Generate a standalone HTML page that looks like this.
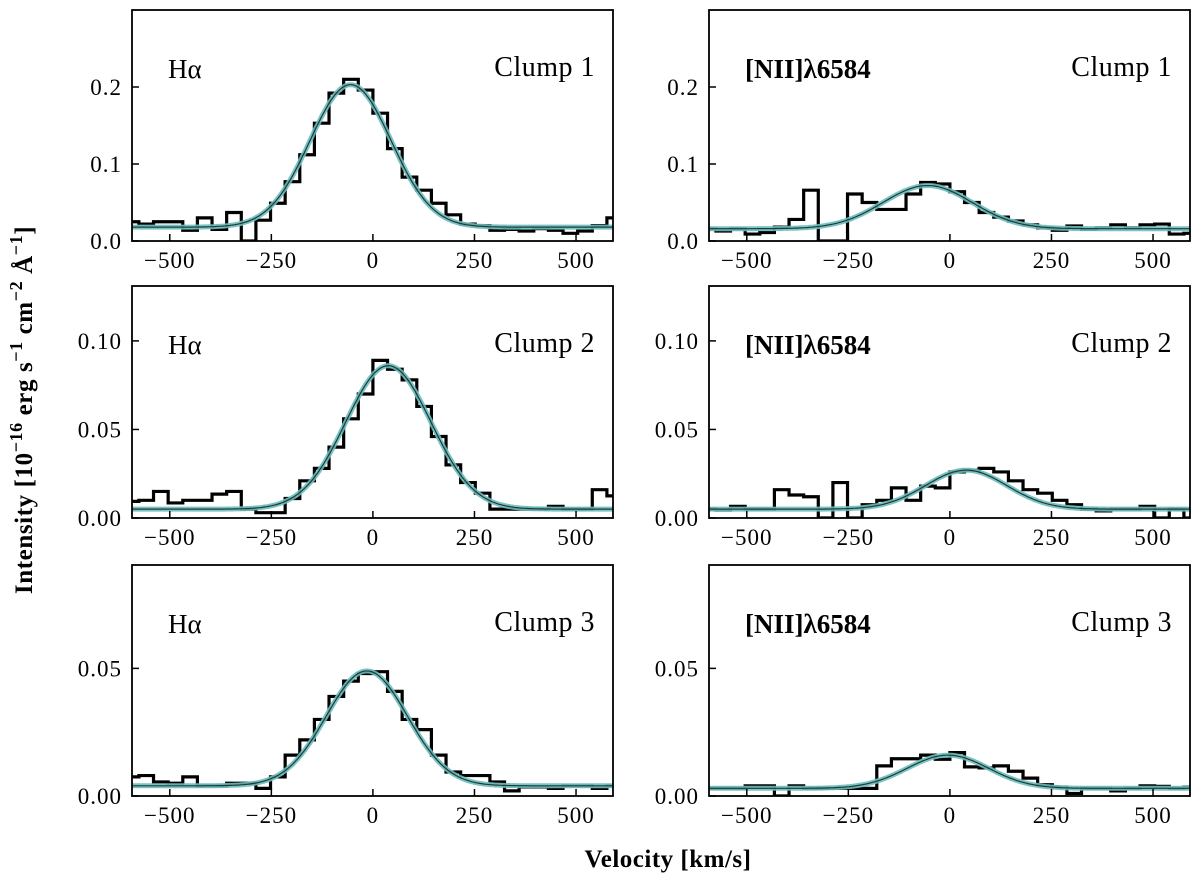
<!DOCTYPE html>
<html><head><meta charset="utf-8"><style>
body{margin:0;background:#fff;}
svg{display:block;font-family:"Liberation Serif","DejaVu Serif",serif;}
</style></head><body>
<svg id="fig" width="1200" height="873" viewBox="0 0 1200 873">
<text x="668" y="867" text-anchor="middle" font-size="25" font-weight="bold" letter-spacing="0.5">Velocity [km/s]</text>
<text transform="translate(32,410) rotate(-90)" text-anchor="middle" font-size="25" font-weight="bold" letter-spacing="0.6">Intensity [10<tspan dy="-10" font-size="18">−16</tspan><tspan dy="10"> erg s</tspan><tspan dy="-10" font-size="18">−1</tspan><tspan dy="10"> cm</tspan><tspan dy="-10" font-size="18">−2</tspan><tspan dy="10"> Å</tspan><tspan dy="-10" font-size="18">−1</tspan><tspan dy="10">]</tspan></text>
</svg>
<script>
const binStart = -612;
const binWidth = 36;
const xTicks = [-500, -250, 0, 250, 500];
const xTickLabels = ["−500", "−250", "0", "250", "500"];
const ha1 = [0.025,0.022,0.025,0.025,0.014,0.03,0.015,0.037,0.0,0.027,0.049,0.077,0.112,0.153,0.192,0.210,0.196,0.166,0.120,0.083,0.066,0.049,0.034,0.022,0.02,0.014,0.015,0.013,0.016,0.014,0.01,0.013,0.02,0.03];
const ha2 = [0.0094,0.010,0.015,0.0085,0.010,0.010,0.0135,0.015,0.005,0.003,0.003,0.011,0.021,0.028,0.040,0.056,0.070,0.089,0.084,0.078,0.063,0.046,0.030,0.020,0.014,0.005,0.005,0.005,0.005,0.0066,0.005,0.005,0.016,0.0125];
const ha3 = [0.0075,0.008,0.0055,0.005,0.0075,0.004,0.004,0.005,0.005,0.003,0.0075,0.016,0.022,0.030,0.039,0.045,0.048,0.0487,0.041,0.030,0.026,0.016,0.0094,0.008,0.008,0.0055,0.002,0.0035,0.0035,0.003,0.004,0.004,0.003,0.004];
const nii1 = [0.016,0.013,0.016,0.009,0.011,0.018,0.028,0.066,0,0,0.061,0.05,0.041,0.041,0.061,0.076,0.074,0.064,0.05,0.037,0.031,0.026,0.021,0.017,0.014,0.0195,0.015,0.017,0.021,0.017,0.021,0.022,0.009,0.01];
const nii2 = [0.005,0.0045,0.0066,0.005,0.005,0.016,0.013,0.012,0,0.020,0,0.0075,0.010,0.017,0.010,0.018,0.017,0.026,0.027,0.028,0.026,0.021,0.016,0.014,0.010,0.0075,0.005,0.004,0.005,0.005,0.0066,0.0,0.005,0.0];
const nii3 = [0.003,0.003,0.003,0.004,0.004,0,0.004,0.003,0.003,0.003,0.003,0.003,0.0118,0.0146,0.0146,0.016,0.0144,0.017,0.0114,0.011,0.0118,0.0097,0.007,0.0044,0.0035,0.001,0.003,0.003,0.002,0.003,0.004,0.0038,0.003,0.0035];
// fit parameters: continuum, amplitude, centre, sigma
const fitHa1 = [0.018,0.185,-55,100];
const fitHa2 = [0.005,0.081,38,105];
const fitHa3 = [0.004,0.045,-15,100];
const fitNii1 = [0.016,0.056,-55,110];
const fitNii2 = [0.005,0.022,40,100];
const fitNii3 = [0.003,0.013,-5,100];
const yTicks1 = [0.0,0.1,0.2]; const yTickLabels1 = ["0.0","0.1","0.2"];
const yTicks2 = [0.0,0.05,0.10]; const yTickLabels2 = ["0.00","0.05","0.10"];
const yTicks3 = [0.0,0.05]; const yTickLabels3 = ["0.00","0.05"];

const NS = "http://www.w3.org/2000/svg";
const svg = document.getElementById("fig");
function mk(tag, attrs, parent){const e=document.createElementNS(NS,tag);for(const k in attrs)e.setAttribute(k,attrs[k]);(parent||svg).appendChild(e);return e;}

const cols = [{x0:132,x1:613},{x0:709,x1:1190}];
const rows = [{y0:10,y1:241,ymax:0.30,t:yTicks1,tl:yTickLabels1},{y0:286,y1:518,ymax:0.131,t:yTicks2,tl:yTickLabels2},{y0:565,y1:796,ymax:0.0905,t:yTicks3,tl:yTickLabels3}];
const xmin=-593, xmax=591;
const panels = [
 {r:0,c:0,d:ha1,f:fitHa1,line:"Hα",clump:"Clump 1",name:"halpha-clump1"},
 {r:0,c:1,d:nii1,f:fitNii1,line:"[NII]λ6584",clump:"Clump 1",name:"nii-clump1"},
 {r:1,c:0,d:ha2,f:fitHa2,line:"Hα",clump:"Clump 2",name:"halpha-clump2"},
 {r:1,c:1,d:nii2,f:fitNii2,line:"[NII]λ6584",clump:"Clump 2",name:"nii-clump2"},
 {r:2,c:0,d:ha3,f:fitHa3,line:"Hα",clump:"Clump 3",name:"halpha-clump3"},
 {r:2,c:1,d:nii3,f:fitNii3,line:"[NII]λ6584",clump:"Clump 3",name:"nii-clump3"}];

panels.forEach((p,i)=>{
  const C=cols[p.c], R=rows[p.r];
  const sx=v=>C.x0+(v-xmin)/(xmax-xmin)*(C.x1-C.x0);
  const sy=v=>R.y1-v/R.ymax*(R.y1-R.y0);
  const g=mk("g",{});
  
  
  const cid="clip"+i;
  const cp=mk("clipPath",{id:cid},g);
  mk("rect",{x:C.x0,y:R.y0,width:C.x1-C.x0,height:R.y1-R.y0},cp);
  let d="";
  p.d.forEach((v,k)=>{const a=sx(binStart+k*binWidth), b=sx(binStart+(k+1)*binWidth), y=sy(v);
    d+=(k===0?"M"+a+","+y:"L"+a+","+y)+"L"+b+","+y;});
  const st=mk("path",{d:d,fill:"none",stroke:"#000","stroke-width":3.2,"clip-path":"url(#"+cid+")"},g);
  
  
  let fd="";
  for(let v=xmin;v<=xmax;v+=4){const f=p.f;const y=f[0]+f[1]*Math.exp(-0.5*Math.pow((v-f[2])/f[3],2));fd+=(v===xmin?"M":"L")+sx(v).toFixed(1)+","+sy(y).toFixed(1);}
  const band=mk("path",{d:fd,fill:"none",stroke:"#6dbcbc","stroke-width":5,"stroke-opacity":0.9,"clip-path":"url(#"+cid+")"},g);
  
  
  const fl=mk("path",{d:fd,fill:"none",stroke:"#1e3a3a","stroke-width":1.2,"clip-path":"url(#"+cid+")"},g);
  
  
  const fr=mk("rect",{x:C.x0,y:R.y0,width:C.x1-C.x0,height:R.y1-R.y0,fill:"none",stroke:"#000","stroke-width":1.8},g);
  
  
  xTicks.forEach((t,k)=>{
    const x=sx(t);
    mk("line",{x1:x,x2:x,y1:R.y1,y2:R.y1-7,stroke:"#000","stroke-width":1.5},g);
    const tl=mk("text",{x:x,y:R.y1+27,"text-anchor":"middle","font-size":23,"letter-spacing":1},g);
    tl.textContent=xTickLabels[k];
    
    
  });
  R.t.forEach((t,k)=>{
    const y=sy(t);
    mk("line",{x1:C.x0,x2:C.x0+7,y1:y,y2:y,stroke:"#000","stroke-width":1.5},g);
    const tl=mk("text",{x:C.x0-10,y:y+8,"text-anchor":"end","font-size":23,"letter-spacing":1},g);
    tl.textContent=R.tl[k];
    
    
  });
  const ln=mk("text",{x:C.x0+36,y:R.y0+68,"font-size":27,"font-weight":(p.c===1?"bold":"normal")},g);
  ln.textContent=p.line;
  
  
  const cl=mk("text",{x:C.x1-18,y:R.y0+66,"text-anchor":"end","font-size":28,"letter-spacing":0.5},g);
  cl.textContent=p.clump;
  
  
});
</script>
</body></html>
